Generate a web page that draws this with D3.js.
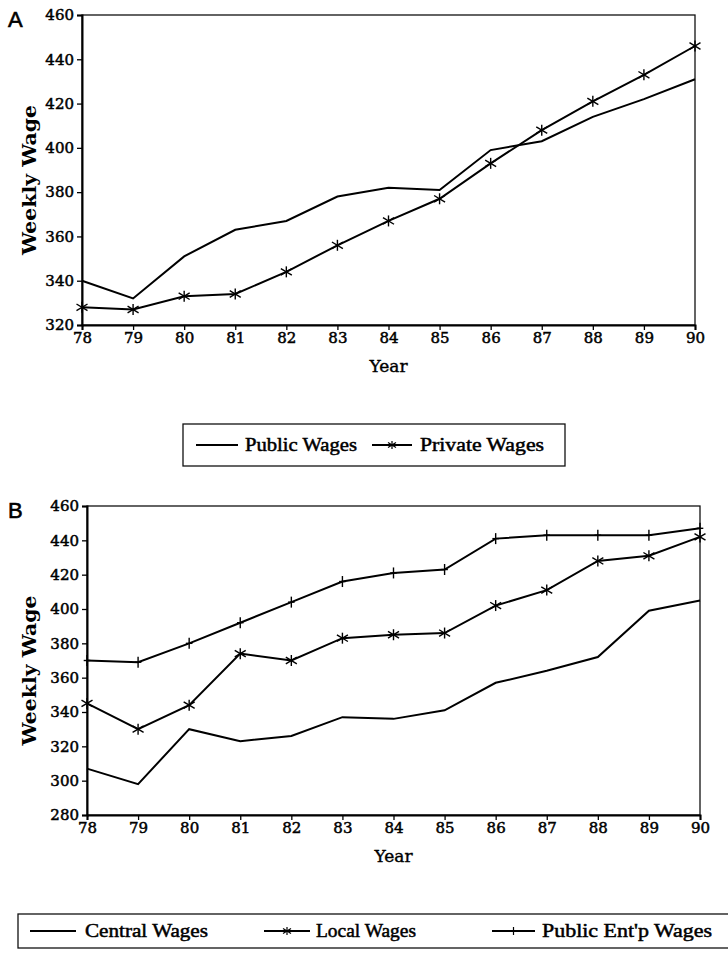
<!DOCTYPE html>
<html>
<head>
	<title>Weekly Wages</title>
	<script src="https://d3js.org/d3.v7.min.js"></script>
	<style>
	body { margin: 0; background: #fff; }
	svg { font-family: "Liberation Serif", "DejaVu Serif", serif; }
	</style>
</head>
<body>
<script type="text/javascript">

// years on the x axis
const years = [78, 79, 80, 81, 82, 83, 84, 85, 86, 87, 88, 89, 90]

// panel A
const publicWages  = [340, 332, 351, 363, 367, 378, 382, 381, 399, 403, 414, 422, 431]
const privateWages = [328, 327, 333, 334, 344, 356, 367, 377, 393, 408, 421, 433, 446]
const yTicksA = [320, 340, 360, 380, 400, 420, 440, 460]

// panel B
const centralWages   = [307, 298, 330, 323, 326, 337, 336, 341, 357, 364, 372, 399, 405]
const localWages     = [345, 330, 344, 374, 370, 383, 385, 386, 402, 411, 428, 431, 442]
const publicEntWages = [370, 369, 380, 392, 404, 416, 421, 423, 441, 443, 443, 443, 447]
const yTicksB = [280, 300, 320, 340, 360, 380, 400, 420, 440, 460]

const svg = d3.select("body").append("svg")
	.attr("width", 728)
	.attr("height", 955)

// markers
function asterisk(g, r) {
	g.append("line").attr("x1", 0).attr("y1", -r).attr("x2", 0).attr("y2", r)
	g.append("line").attr("x1", -r).attr("y1", -r * 0.6).attr("x2", r).attr("y2", r * 0.6)
	g.append("line").attr("x1", -r).attr("y1", r * 0.6).attr("x2", r).attr("y2", -r * 0.6)
}
function plus(g, r) {
	g.append("line").attr("x1", 0).attr("y1", -r).attr("x2", 0).attr("y2", r)
	g.append("line").attr("x1", -r * 0.6).attr("y1", 0).attr("x2", r * 0.6).attr("y2", 0)
}

function drawPanel(p) {
	const x = d3.scaleLinear().domain([78, 90]).range([p.left, p.right])
	const y = d3.scaleLinear().domain(p.yDomain).range([p.bottom, p.top])

	// frame
	svg.append("rect")
		.attr("x", p.left).attr("y", p.top)
		.attr("width", p.right - p.left).attr("height", p.bottom - p.top)
		.attr("fill", "none").attr("stroke", "#111").attr("stroke-width", 1.3)

	const xAxis = svg.append("g")
		.attr("transform", `translate(0,${p.bottom})`)
		.call(d3.axisBottom(x).tickValues(years).tickSize(5).tickPadding(2).tickFormat(d => d))
	const yAxis = svg.append("g")
		.attr("transform", `translate(${p.left},0)`)
		.call(d3.axisLeft(y).tickValues(p.yTicks).tickSize(5).tickPadding(3))

	for (const ax of [xAxis, yAxis]) {
		ax.select(".domain").attr("stroke", "#000").attr("stroke-width", 2)
		ax.selectAll(".tick line").attr("stroke", "#000").attr("stroke-width", 1.3)
		ax.selectAll("text")
			.attr("fill", "#000")
			.attr("stroke", "#000").attr("stroke-width", 0.5)
			.style("font-family", "'DejaVu Serif', serif")
			.style("font-size", "15px")
	}
	xAxis.selectAll("text").attr("dy", "0.75em")

	// axis titles
	svg.append("text")
		.attr("transform", `translate(${p.titleX},${(p.top + p.bottom) / 2 + 10}) rotate(-90)`)
		.attr("text-anchor", "middle")
		.attr("textLength", 150).attr("lengthAdjust", "spacingAndGlyphs")
		.style("font-family", "'DejaVu Serif', serif")
		.style("font-weight", "bold")
		.style("font-size", "18px")
		.text("Weekly  Wage")
	svg.append("text")
		.attr("x", (p.left + p.right) / 2).attr("y", p.bottom + 47)
		.attr("text-anchor", "middle")
		.attr("stroke", "#000").attr("stroke-width", 0.4)
		.style("font-family", "'DejaVu Serif', serif")
		.style("font-size", "17px")
		.text("Year")

	// panel letter
	svg.append("text")
		.attr("x", 8).attr("y", p.top + 12)
		.attr("stroke", "#000").attr("stroke-width", 0.6)
		.style("font-family", "'Liberation Sans', Arial, sans-serif")
		.style("font-size", "22px")
		.text(p.letter)

	// lines
	const line = d3.line().x((d, i) => x(years[i])).y(d => y(d))
	p.series.forEach(s => {
		svg.append("path")
			.datum(s.values)
			.attr("d", line)
			.attr("fill", "none")
			.attr("stroke", "#000")
			.attr("stroke-width", 2)
		if (s.marker) {
			s.values.forEach((v, i) => {
				const g = svg.append("g")
					.attr("transform", `translate(${x(years[i])},${y(v)})`)
					.attr("stroke", "#000").attr("stroke-width", 1.4)
				s.marker(g, 5.5)
			})
		}
	})

	// legend
	const L = p.legend
	svg.append("rect")
		.attr("x", L.x).attr("y", L.y).attr("width", L.w).attr("height", L.h)
		.attr("fill", "none").attr("stroke", "#111").attr("stroke-width", 1.3)
	p.series.forEach((s, i) => {
		const it = L.items[i]
		const cy = L.y + L.h / 2
		svg.append("line")
			.attr("x1", it.x1).attr("x2", it.x2).attr("y1", cy).attr("y2", cy)
			.attr("stroke", "#000").attr("stroke-width", 2.2)
		if (s.marker) {
			const g = svg.append("g")
				.attr("transform", `translate(${(it.x1 + it.x2) / 2},${cy})`)
				.attr("stroke", "#000").attr("stroke-width", 1.2)
			s.marker(g, 4)
		}
		svg.append("text")
			.attr("x", it.tx).attr("y", cy + 6)
			.attr("textLength", it.tw).attr("lengthAdjust", "spacingAndGlyphs")
			.attr("stroke", "#000").attr("stroke-width", 0.5)
			.style("font-size", "19px")
			.text(s.name)
	})
}

drawPanel({
	letter: "A",
	left: 82, right: 695, top: 15, bottom: 325,
	yDomain: [320, 460], yTicks: yTicksA,
	titleX: 36,
	series: [
		{name: "Public Wages", values: publicWages},
		{name: "Private Wages", values: privateWages, marker: asterisk}
	],
	legend: {
		x: 183, y: 424, w: 382, h: 42,
		items: [
			{x1: 196, x2: 238, tx: 245, tw: 112},
			{x1: 372, x2: 412, tx: 420, tw: 124}
		]
	}
})

drawPanel({
	letter: "B",
	left: 87, right: 700, top: 506, bottom: 815,
	yDomain: [280, 460], yTicks: yTicksB,
	titleX: 36,
	series: [
		{name: "Central Wages", values: centralWages},
		{name: "Local Wages", values: localWages, marker: asterisk},
		{name: "Public Ent'p Wages", values: publicEntWages, marker: plus}
	],
	legend: {
		x: 18, y: 914, w: 730, h: 34,
		items: [
			{x1: 30, x2: 76, tx: 85, tw: 123},
			{x1: 264, x2: 310, tx: 316, tw: 100},
			{x1: 492, x2: 535, tx: 542, tw: 170}
		]
	}
})

</script>
</body>
</html>
